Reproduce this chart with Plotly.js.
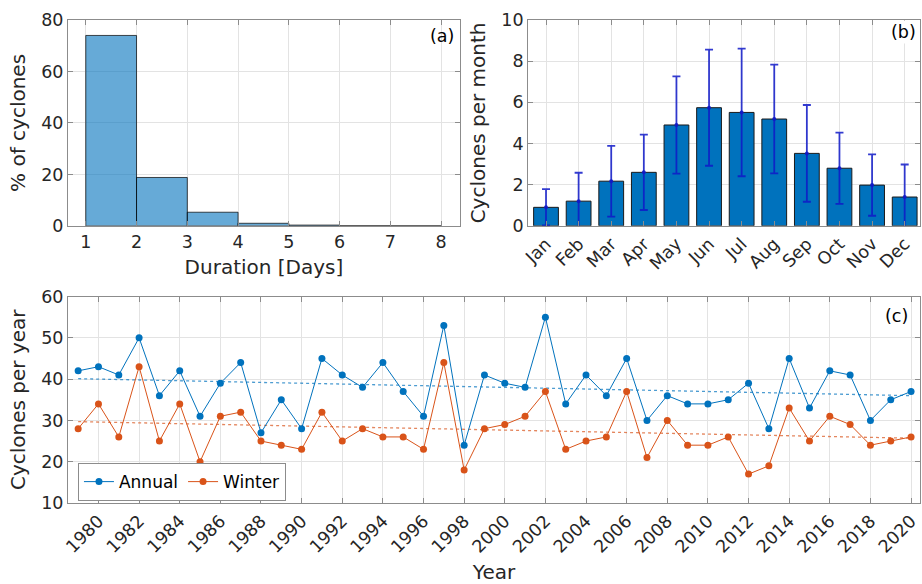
<!DOCTYPE html>
<html>
<head>
<meta charset="utf-8">
<script src="https://cdn.plot.ly/plotly-3.0.1.min.js"></script>
<style>html,body{margin:0;padding:0;background:#fff;}#chart{width:922px;height:584px;}</style>
</head>
<body>
<div id="chart"></div>
<script>
// Panel (a): duration histogram
const durationBinStarts = [1, 2, 3, 4, 5, 6, 7];
const durationPercent = [74, 18.8, 5.3, 1.0, 0.3, 0.06, 0.03];
const durationTicks = [1, 2, 3, 4, 5, 6, 7, 8];

// Panel (b): monthly counts
const months = ['Jan','Feb','Mar','Apr','May','Jun','Jul','Aug','Sep','Oct','Nov','Dec'];
const monthlyMean = [0.9, 1.2, 2.17, 2.6, 4.9, 5.74, 5.51, 5.19, 3.52, 2.8, 1.98, 1.4];
const monthlyStd = [0.88, 1.38, 1.72, 1.83, 2.36, 2.82, 3.1, 2.64, 2.35, 1.73, 1.49, 1.58];

// Panel (c): yearly counts
const years = [1979,1980,1981,1982,1983,1984,1985,1986,1987,1988,1989,1990,1991,1992,1993,1994,1995,1996,1997,1998,1999,2000,2001,2002,2003,2004,2005,2006,2007,2008,2009,2010,2011,2012,2013,2014,2015,2016,2017,2018,2019,2020];
const annual = [42,43,41,50,36,42,31,39,44,27,35,28,45,41,38,44,37,31,53,24,41,39,38,55,34,41,36,45,30,36,34,34,35,39,28,45,33,42,41,30,35,37];
const winter = [28,34,26,43,25,34,20,31,32,25,24,23,32,25,28,26,26,23,44,18,28,29,31,37,23,25,26,37,21,30,24,24,26,17,19,33,25,31,29,24,25,26];
const trendYears = [1979, 2020];
const annualTrend = [40.1, 36.0];
const winterTrend = [29.7, 25.7];
const yearTicks = [1980,1982,1984,1986,1988,1990,1992,1994,1996,1998,2000,2002,2004,2006,2008,2010,2012,2014,2016,2018,2020];

const FONT = 'DejaVu Sans, sans-serif';
const TXT = '#262626';
const AX = '#8c8c8c';
const GRID = '#e3e3e3';
const TICK = 17.5;
const TITLE = 20;

function axisBase(extra) {
  return Object.assign({
    showline: true, linecolor: AX, linewidth: 1, mirror: 'ticks',
    ticks: 'inside', ticklen: 5, tickcolor: AX,
    showgrid: true, gridcolor: GRID, gridwidth: 1,
    zeroline: false, automargin: false,
    tickfont: {family: FONT, size: TICK, color: TXT}
  }, extra);
}
function ttl(text, standoff) {
  return {text: text, font: {family: FONT, size: TITLE, color: TXT}, standoff: standoff};
}

const binCenters = durationBinStarts.map(v => v + 0.5);

const traces = [
  {
    type: 'bar', x: binCenters, y: durationPercent, width: 1,
    marker: {color: 'rgba(0,114,189,0.6)', line: {color: 'rgba(0,0,0,0.7)', width: 1}},
    xaxis: 'x', yaxis: 'y', showlegend: false
  },
  {
    type: 'bar', x: months, y: monthlyMean, width: 0.76,
    marker: {color: '#0072BD', line: {color: '#1a1a1a', width: 1}},
    xaxis: 'x2', yaxis: 'y2', showlegend: false
  },
  {
    type: 'scatter', mode: 'markers', x: months, y: monthlyMean,
    marker: {size: 4, color: 'rgba(15,25,200,0.9)'},
    error_y: {type: 'data', array: monthlyStd, visible: true, color: 'rgba(15,25,200,0.85)', thickness: 1.8, width: 4},
    xaxis: 'x2', yaxis: 'y2', showlegend: false
  },
  {
    type: 'scatter', mode: 'lines', x: trendYears, y: annualTrend,
    line: {color: 'rgba(0,114,189,0.7)', width: 1.3, dash: 'dot'},
    xaxis: 'x3', yaxis: 'y3', showlegend: false
  },
  {
    type: 'scatter', mode: 'lines', x: trendYears, y: winterTrend,
    line: {color: 'rgba(217,83,25,0.7)', width: 1.3, dash: 'dot'},
    xaxis: 'x3', yaxis: 'y3', showlegend: false
  },
  {
    type: 'scatter', mode: 'lines+markers', name: 'Annual', x: years, y: annual,
    line: {color: '#0072BD', width: 1}, marker: {color: '#0072BD', size: 7},
    xaxis: 'x3', yaxis: 'y3'
  },
  {
    type: 'scatter', mode: 'lines+markers', name: 'Winter', x: years, y: winter,
    line: {color: '#D95319', width: 1}, marker: {color: '#D95319', size: 7},
    xaxis: 'x3', yaxis: 'y3'
  }
];

const layout = {
  width: 922, height: 584,
  margin: {l: 68, r: 2, t: 20, b: 81},
  paper_bgcolor: '#ffffff', plot_bgcolor: '#ffffff',
  font: {family: FONT, color: TXT, size: TICK},
  bargap: 0,
  xaxis: axisBase({
    domain: [0, 0.460], anchor: 'y', range: [0.65, 8.37],
    tickvals: durationTicks, ticktext: durationTicks.map(String),
    title: ttl('Duration [Days]', 9)
  }),
  yaxis: axisBase({
    domain: [0.5738, 1], anchor: 'x', range: [0, 80], tickvals: [0,20,40,60,80],
    title: ttl('% of cyclones', 10)
  }),
  xaxis2: axisBase({
    domain: [0.540, 1], anchor: 'y2', range: [-0.55, 11.47],
    type: 'category', tickangle: -45
  }),
  yaxis2: axisBase({
    domain: [0.5738, 1], anchor: 'x2', range: [0, 10], tickvals: [0,2,4,6,8,10],
    title: ttl('Cyclones per month', 10)
  }),
  xaxis3: axisBase({
    domain: [0, 1], anchor: 'y3', range: [1978.5, 2020.44],
    tickvals: yearTicks, ticktext: yearTicks.map(String), tickangle: -45,
    title: ttl('Year', 12)
  }),
  yaxis3: axisBase({
    domain: [0, 0.4275], anchor: 'x3', range: [10, 60], tickvals: [10,20,30,40,50,60],
    title: ttl('Cyclones per year', 10)
  }),
  legend: {
    x: 0.0117, y: 0.004, xanchor: 'left', yanchor: 'bottom', xref: 'paper', yref: 'paper',
    orientation: 'h', bgcolor: '#ffffff', bordercolor: AX, borderwidth: 1,
    font: {family: FONT, size: 17, color: '#000'}, tracegroupgap: 0
  },
  annotations: [
    {text: '(a)', xref: 'x domain', yref: 'y domain', x: 0.99, y: 0.92, xanchor: 'right', yanchor: 'middle', showarrow: false, font: {family: FONT, size: TICK, color: '#000'}},
    {text: '(b)', xref: 'x2 domain', yref: 'y2 domain', x: 0.995, y: 0.94, xanchor: 'right', yanchor: 'middle', showarrow: false, bgcolor: '#ffffff', font: {family: FONT, size: TICK, color: '#000'}},
    {text: '(c)', xref: 'x3 domain', yref: 'y3 domain', x: 0.988, y: 0.905, xanchor: 'right', yanchor: 'middle', showarrow: false, bgcolor: '#ffffff', font: {family: FONT, size: TICK, color: '#000'}}
  ]
};

Plotly.newPlot('chart', traces, layout, {staticPlot: true, displayModeBar: false});
</script>
</body>
</html>
